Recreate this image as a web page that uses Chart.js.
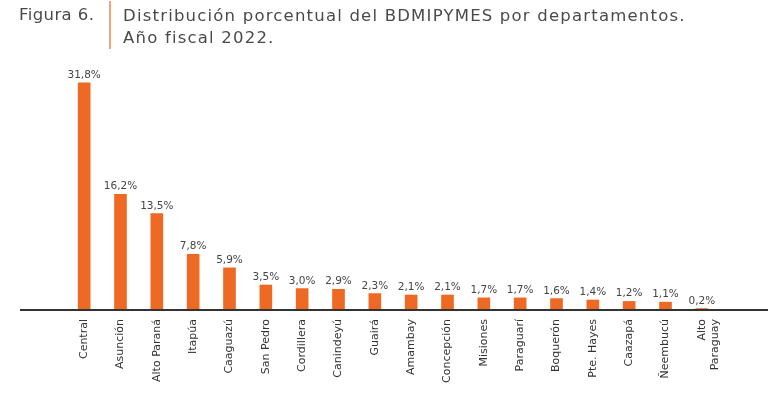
<!DOCTYPE html>
<html>
<head>
<meta charset="utf-8">
<script src="https://cdn.jsdelivr.net/npm/chart.js@4"></script>
<style>
  body { margin: 0; background: #fff; }
  #wrap { position: relative; width: 768px; height: 396px; }
  #chart { position: absolute; left: 0; top: 0; }
  .fig { position: absolute; left: 19px; top: 5px; font: 16.5px "DejaVu Sans"; color: #4a4a4a; letter-spacing: 0.4px; }
  .bar { position: absolute; left: 109px; top: 1px; width: 2px; height: 48px; background: #f0a37c; }
  .title { position: absolute; left: 123px; top: 5px; font: 16.5px "DejaVu Sans"; color: #4a4a4a; letter-spacing: 1.2px; line-height: 21.5px; }
</style>
</head>
<body>
<div id="wrap">
  <canvas id="chart" width="768" height="396"></canvas>
  <div class="fig">Figura 6.</div>
  <div class="bar"></div>
  <div class="title">Distribución porcentual del BDMIPYMES por departamentos.<br>Año fiscal 2022.</div>
</div>
<script>
const departamentos = ['Central', 'Asunción', 'Alto Paraná', 'Itapúa', 'Caaguazú', 'San Pedro', 'Cordillera',
  'Canindeyú', 'Guairá', 'Amambay', 'Concepción', 'Misiones', 'Paraguarí', 'Boquerón', 'Pte. Hayes',
  'Caazapá', 'Ñeembucú', ['Alto', 'Paraguay']];
const porcentajes = [31.8, 16.2, 13.5, 7.8, 5.9, 3.5, 3.0, 2.9, 2.3, 2.1, 2.1, 1.7, 1.7, 1.6, 1.4, 1.2, 1.1, 0.2];

const fmt = v => v.toFixed(1).replace('.', ',') + '%';

// value labels above each bar
const valueLabels = {
  id: 'valueLabels',
  afterDatasetsDraw(chart) {
    const ctx = chart.ctx;
    const meta = chart.getDatasetMeta(0);
    ctx.save();
    ctx.font = '10.5px "DejaVu Sans"';
    ctx.fillStyle = '#444';
    ctx.textAlign = 'center';
    ctx.textBaseline = 'alphabetic';
    meta.data.forEach((bar, i) => {
      ctx.fillText(fmt(porcentajes[i]), bar.x, bar.y - 5);
    });
    ctx.restore();
  }
};

// base line runs wider than the bars
const baseLine = {
  id: 'baseLine',
  afterDatasetsDraw(chart) {
    const ctx = chart.ctx;
    const y = chart.chartArea.bottom;
    ctx.save();
    ctx.strokeStyle = '#333';
    ctx.lineWidth = 2;
    ctx.beginPath();
    ctx.moveTo(20, y);
    ctx.lineTo(768, y);
    ctx.stroke();
    ctx.restore();
  }
};

new Chart(document.getElementById('chart').getContext('2d'), {
  type: 'bar',
  data: {
    labels: departamentos,
    datasets: [{
      data: porcentajes,
      backgroundColor: '#ee6a24',
      barThickness: 12,
    }],
  },
  options: {
    responsive: false,
    animation: false,
    layout: { padding: { left: 66, right: 48, top: 60, bottom: 0 } },
    plugins: { legend: { display: false }, tooltip: { enabled: false } },
    scales: {
      x: {
        grid: { display: false, drawTicks: false },
        border: { display: false },
        ticks: {
          minRotation: 90,
          maxRotation: 90,
          autoSkip: false,
          padding: 9,
          color: '#333',
          font: { family: 'DejaVu Sans', size: 11 },
        },
        afterFit: s => { s.height = 86; },
      },
      y: {
        display: false,
        min: 0,
        max: 35,
      },
    },
  },
  plugins: [valueLabels, baseLine],
});
</script>
</body>
</html>
